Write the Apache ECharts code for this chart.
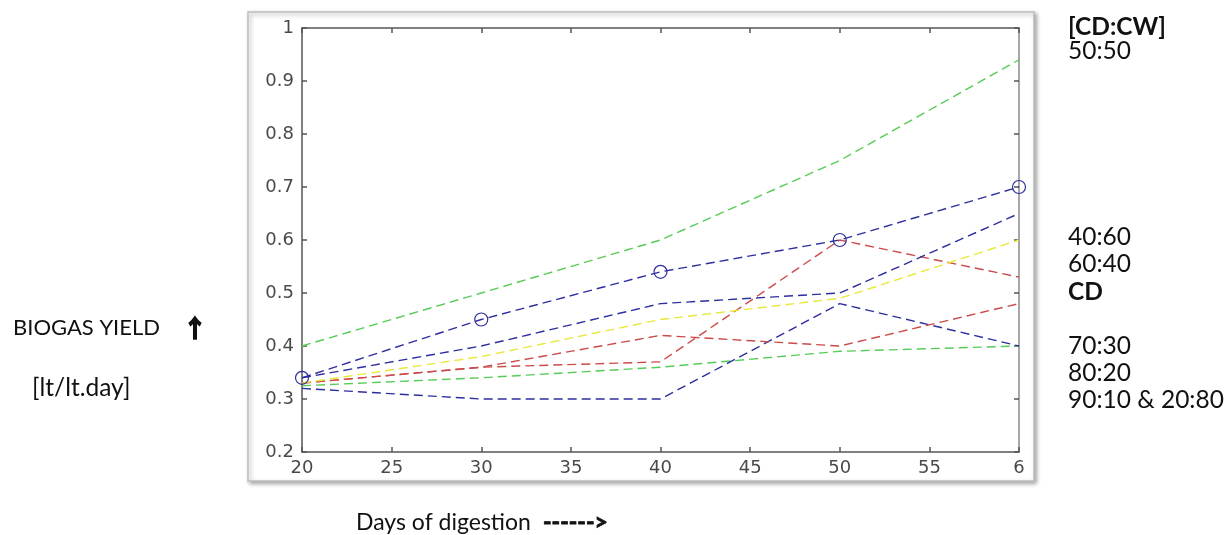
<!DOCTYPE html>
<html>
<head>
<meta charset="utf-8">
<script src="https://cdn.jsdelivr.net/npm/echarts@6/dist/echarts.min.js"></script>
<style>
html,body{margin:0;padding:0;background:#fff;}
#chart{width:1227px;height:535px;}
</style>
</head>
<body>
<div id="chart"></div>
<script>
// ---- data ----
const days = [20, 30, 40, 50, 60];
const mix5050 = [0.40, 0.50, 0.60, 0.75, 0.94];      // green, top
const blueCircles = [0.34, 0.45, 0.54, 0.60, 0.70];  // blue with circle markers
const blueMid = [0.34, 0.40, 0.48, 0.50, 0.65];
const yellowLine = [0.33, 0.38, 0.45, 0.49, 0.60];
const redLow = [0.33, 0.36, 0.42, 0.40, 0.48];
const redHigh = [0.33, 0.36, 0.37, 0.60, 0.53];
const greenLow = [0.325, 0.34, 0.36, 0.39, 0.40];
const blueLow = [0.32, 0.30, 0.30, 0.48, 0.40];
const ratioLabels = ['[CD:CW]', '50:50', '40:60', '60:40', 'CD', '70:30', '80:20', '90:10 & 20:80'];
const yAxisTitle = 'BIOGAS YIELD';
const yAxisArrow = '↑';
const yAxisUnit = '[lt/lt.day]';
const xAxisTitle = 'Days of digestion';
const xAxisArrow = '------>';

// ---- chart ----
const chart = echarts.init(document.getElementById('chart'), null, {renderer: 'canvas'});

function pts(vals) { return days.map((d, i) => [d, vals[i]]); }

const GREEN = '#55cc55', BLUE = '#2e2e9e', RED = '#cc4a4a', YELLOW = '#e8e83a';
const dash = [9, 5];

function lineSeries(vals, color, withMarker) {
  return {
    type: 'line',
    data: pts(vals),
    showSymbol: !!withMarker,
    symbol: withMarker ? 'circle' : 'none',
    symbolSize: 13,
    itemStyle: {color: 'rgba(255,255,255,0)', borderColor: color, borderWidth: 1.2},
    lineStyle: {color: color, width: 1.4, type: dash},
    emphasis: {disabled: true},
    clip: true,
    animation: false,
    z: 3
  };
}

const axisColor = '#555';
const labelFont = {fontFamily: 'DejaVu Sans', fontSize: 18, color: '#4a4a4a'};
const labelYs = [27, 51, 237, 264, 292, 346, 373, 400];
const boldIdx = [0, 4];
const textFont = '"Lato", "Open Sans", sans-serif';

const graphics = [
  {type: 'rect', shape: {x: 248, y: 12, width: 786, height: 469}, z: -10,
   style: {fill: '#fff', stroke: '#bdbdbd', lineWidth: 1.5,
           shadowBlur: 4, shadowOffsetX: 2, shadowOffsetY: 2, shadowColor: 'rgba(0,0,0,0.35)'}},
  {type: 'text', x: 13, y: 328, style: {text: yAxisTitle, font: '22px ' + textFont, fill: '#111', textVerticalAlign: 'middle'}},
  {type: 'text', x: 183, y: 328, style: {text: yAxisArrow, font: 'bold 24px "Noto Sans CJK SC"', fill: '#111', stroke: '#111', lineWidth: 1.6, textVerticalAlign: 'middle'}},
  {type: 'text', x: 32, y: 388, style: {text: yAxisUnit, font: '24.5px ' + textFont, fill: '#111', textVerticalAlign: 'middle'}},
  {type: 'text', x: 356, y: 523, style: {text: xAxisTitle, font: '23px ' + textFont, fill: '#111', textVerticalAlign: 'middle'}},
  {type: 'text', x: 543, y: 523, style: {text: xAxisArrow, font: 'bold 23px ' + textFont, fill: '#111', stroke: '#111', lineWidth: 0.8, textVerticalAlign: 'middle'}}
];
ratioLabels.forEach((t, i) => {
  graphics.push({type: 'text', x: 1068, y: labelYs[i],
    style: {text: t, font: (boldIdx.includes(i) ? 'bold ' : '') + '24.5px ' + textFont, fill: '#111', textVerticalAlign: 'middle'}});
});

chart.setOption({
  animation: false,
  backgroundColor: '#fff',
  grid: {left: 302, right: 208, top: 28, bottom: 83, containLabel: false},
  xAxis: [{
    type: 'value', min: 20, max: 60, interval: 5, position: 'bottom',
    axisLine: {show: true, lineStyle: {color: axisColor, width: 1.5}},
    axisTick: {show: true, inside: true, length: 5, lineStyle: {color: axisColor, width: 1.5}},
    splitLine: {show: false},
    axisLabel: Object.assign({margin: 7, formatter: v => (v === 60 ? '6' : String(v)), showMaxLabel: true}, labelFont)
  }, {
    type: 'value', min: 20, max: 60, interval: 5, position: 'top',
    axisLine: {show: true, lineStyle: {color: axisColor, width: 1.5}},
    axisTick: {show: true, inside: true, length: 5, lineStyle: {color: axisColor, width: 1.5}},
    splitLine: {show: false}, axisLabel: {show: false}
  }],
  yAxis: [{
    type: 'value', min: 0.2, max: 1, interval: 0.1, position: 'left',
    axisLine: {show: true, lineStyle: {color: axisColor, width: 1.5}},
    axisTick: {show: true, inside: true, length: 5, lineStyle: {color: axisColor, width: 1.5}},
    splitLine: {show: false},
    axisLabel: Object.assign({margin: 8, formatter: v => (Math.abs(v - 1) < 1e-9 ? '1' : v.toFixed(1))}, labelFont)
  }, {
    type: 'value', min: 0.2, max: 1, interval: 0.1, position: 'right',
    axisLine: {show: true, lineStyle: {color: '#8a8a8a', width: 1.5}},
    axisTick: {show: true, inside: true, length: 5, lineStyle: {color: axisColor, width: 1.5}},
    splitLine: {show: false}, axisLabel: {show: false}
  }],
  series: [
    lineSeries(greenLow, GREEN),
    lineSeries(blueLow, BLUE),
    lineSeries(redLow, RED),
    lineSeries(redHigh, RED),
    lineSeries(yellowLine, YELLOW),
    lineSeries(blueMid, BLUE),
    lineSeries(mix5050, GREEN),
    lineSeries(blueCircles, BLUE, true)
  ],
  graphic: graphics
});
</script>
</body>
</html>
